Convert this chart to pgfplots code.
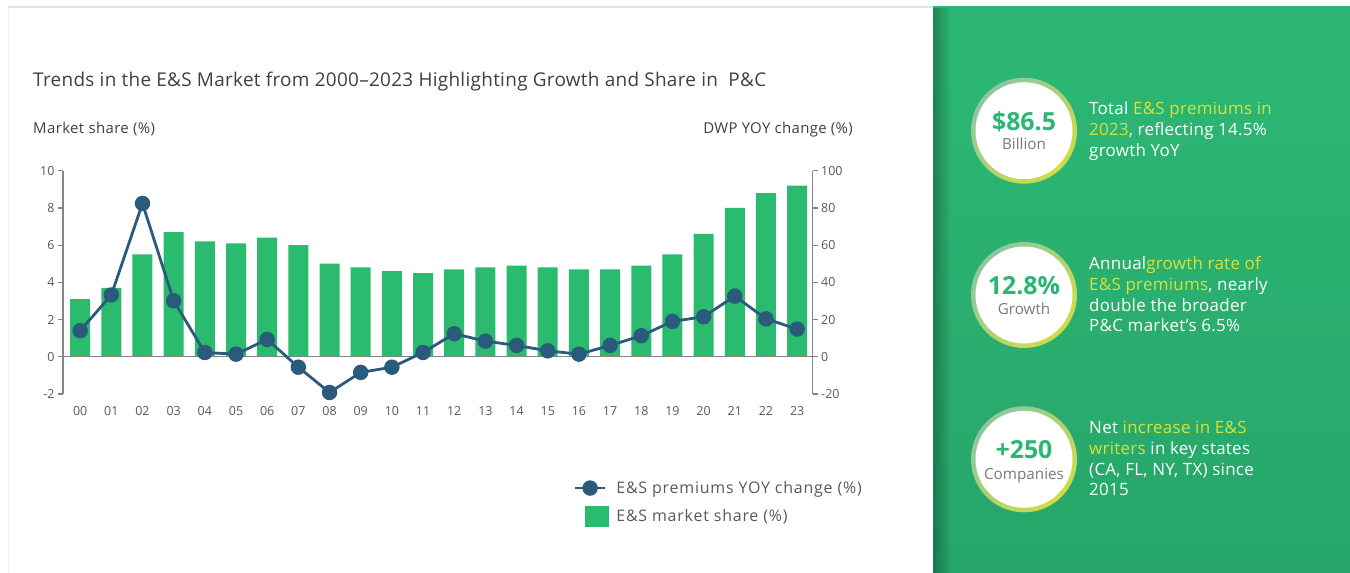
\documentclass[border=0pt]{standalone}
\usepackage{pgfplots}
\pgfplotsset{compat=1.18}
\usepackage{pgfplotstable}
\usepackage{fontspec}
\setmainfont{Open Sans}
\usetikzlibrary{fadings}
\definecolor{esgreen}{HTML}{2BBB6F}
\definecolor{esblue}{HTML}{2A5B7C}
\definecolor{axgray}{HTML}{858585}
\definecolor{lblgray}{HTML}{595959}
\definecolor{titlegray}{HTML}{404040}
\definecolor{panelA}{HTML}{2CB874}
\definecolor{panelB}{HTML}{26A66A}
\definecolor{ringA}{HTML}{8CC7A0}
\definecolor{ringB}{HTML}{CFDC45}
\definecolor{hl}{HTML}{D6E23A}
\definecolor{numgreen}{HTML}{2AB673}
\definecolor{subgray}{HTML}{7A7A7A}
\definecolor{topline}{HTML}{DCE6E1}
\definecolor{leftline}{HTML}{F0F0F0}

\pgfplotstableread{
x share yoy
0 3.1 14.0
1 3.7 33.2
2 5.5 82.4
3 6.7 30.1
4 6.2 2.3
5 6.1 1.4
6 6.4 9.3
7 6.0 -5.6
8 5.0 -19.2
9 4.8 -8.4
10 4.6 -5.6
11 4.5 2.3
12 4.7 12.4
13 4.8 8.4
14 4.9 6.1
15 4.8 3.2
16 4.7 1.4
17 4.7 6.1
18 4.9 11.3
19 5.5 19.0
20 6.6 21.5
21 8.0 32.6
22 8.8 20.4
23 9.2 14.9
}\data

\newcommand{\ticksize}{\fontsize{12.5}{15}\selectfont}
\newcommand{\rfont}{\fontsize{17}{20}\selectfont\addfontfeatures{LetterSpace=1.7}}
\pgfplotsset{
  lineleg/.style={legend image code/.code={\draw[mark repeat=2,mark phase=2,##1] plot coordinates {(-13bp,0bp) (2bp,0bp) (17bp,0bp)};}},
  boxleg/.style={legend image code/.code={\fill[esgreen] (-3bp,-10bp) rectangle (20bp,10bp);}},
  common/.style={
    at={(63bp,179bp)}, anchor=south west, scale only axis,
    width=749.7bp, height=223.3bp,
    xmin=-0.55, xmax=23.5, clip=false,
    axis line style={-, axgray, line width=1.2bp},
    tick align=outside, major tick length=5bp,
    tick style={axgray, line width=1.2bp},
    tick label style={font=\ticksize, text=lblgray},
    /pgf/number format/assume math mode=true,
  }
}

\begin{document}
\begin{tikzpicture}
\begin{scope}[x=1bp,y=1bp]
\useasboundingbox (0,0) rectangle (1350,573);
\fill[white] (0,0) rectangle (1350,573);
\draw[leftline] (8.5,0) -- (8.5,566);
\draw[topline, line width=1.2bp] (8,566) -- (933,566);
% right panel
\shade[top color=panelA, bottom color=panelB] (933,0) rectangle (1350,566);
\fill[black, opacity=0.28, path fading=east] (933,0) rectangle (951,566);
\foreach \cy in {130.7,295,459.3}{
  \shade[top color=ringA, bottom color=ringB, shading angle=45] (1024,{573-\cy}) circle (53);
  \fill[white] (1024,{573-\cy}) circle (48.5);
}
\node[anchor=base, inner sep=0, text=numgreen, font=\fontsize{25}{30}\selectfont\bfseries] at (1024,{573-130.7}) {\$86.5};
\node[anchor=base, inner sep=0, text=subgray, font=\fontsize{15.3}{17}\selectfont] at (1024,{573-150}) {Billion};
\node[anchor=base, inner sep=0, text=numgreen, font=\fontsize{25}{30}\selectfont\bfseries] at (1024,{573-295}) {12.8\%};
\node[anchor=base, inner sep=0, text=subgray, font=\fontsize{15.3}{17}\selectfont] at (1024,{573-315}) {Growth};
\node[anchor=base, inner sep=0, text=numgreen, font=\fontsize{25}{30}\selectfont\bfseries] at (1024,{573-458.3}) {+250};
\node[anchor=base, inner sep=0, text=subgray, font=\fontsize{15.3}{17}\selectfont] at (1024,{573-479.3}) {Companies};
% right texts
\begin{scope}[every node/.style={anchor=base west, inner sep=0, text=white, font=\rfont}]
\node at (1089,{573-115}) {Total \textcolor{hl}{E\&S premiums in}};
\node at (1089,{573-136}) {\textcolor{hl}{2023}, reflecting 14.5\%};
\node at (1089,{573-156.7}) {growth YoY};
\node at (1089,{573-270}) {Annual\textcolor{hl}{growth rate of}};
\node at (1089,{573-290.7}) {\textcolor{hl}{E\&S premiums}, nearly};
\node at (1089,{573-311.7}) {double the broader};
\node at (1089,{573-331.7}) {P\&C market's 6.5\%};
\node at (1089,{573-434}) {Net \textcolor{hl}{increase in E\&S}};
\node at (1089,{573-455}) {\textcolor{hl}{writers} in key states};
\node at (1089,{573-475.7}) {(CA, FL, NY, TX) since};
\node at (1089,{573-496}) {2015};
\end{scope}
% titles
\node[anchor=base west, inner sep=0, text=titlegray, font=\fontsize{19}{22}\selectfont\addfontfeatures{LetterSpace=1.6}] at (33,{573-86.7}) {Trends in the E\&S Market from 2000--2023 Highlighting Growth and Share in\ \ P\&C};
\node[anchor=base west, inner sep=0, text=titlegray, font=\fontsize{15}{17}\selectfont\addfontfeatures{LetterSpace=2.6}] at (33,{573-134}) {Market share (\%)};
\node[anchor=base east, inner sep=0, text=titlegray, font=\fontsize{15}{17}\selectfont\addfontfeatures{LetterSpace=2.3}] at (853,{573-134}) {DWP YOY change (\%)};
\end{scope}

\begin{axis}[common,
  ymin=-2, ymax=10, ytick={-2,0,...,10},
  axis y line*=left, axis x line*=bottom,
  x axis line style={draw=none}, major x tick style={draw=none},
  xtick={0,...,23},
  xticklabels={00,01,02,03,04,05,06,07,08,09,10,11,12,13,14,15,16,17,18,19,20,21,22,23},
  xticklabel style={yshift=-4bp},
]
\addplot[ybar, bar width=20bp, fill=esgreen, draw=none] table[x=x,y=share]{\data};
\draw[axgray, line width=1.2bp] (axis cs:-0.55,0) -- (axis cs:23.5,0);
\end{axis}
\begin{axis}[common,
  ymin=-20, ymax=100, ytick={-20,0,...,100},
  axis y line*=right, axis x line=none,
  legend style={at={(0.677,-0.372)}, anchor=north west, draw=none, fill=none,
    font=\fontsize{16}{19}\selectfont\addfontfeatures{LetterSpace=5}, text=lblgray, row sep=9bp,
    nodes={inner sep=2bp},
    /tikz/every odd column/.append style={column sep=6bp}},
  legend cell align=left,
]
\addplot[esblue, line width=2.8bp, mark=*, mark size=6.3bp, lineleg]
  table[x=x,y=yoy]{\data};
\addlegendentry{E\&S premiums YOY change (\%)}
\addlegendimage{boxleg}
\addlegendentry{E\&S market share (\%)}
\end{axis}
\end{tikzpicture}
\end{document}
